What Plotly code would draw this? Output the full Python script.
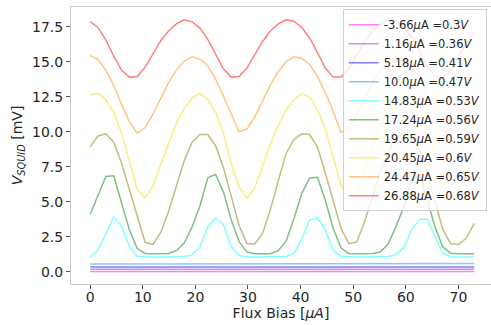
import plotly.graph_objects as go

flux_bias = [0.0, 1.49, 2.98, 4.47, 5.96, 7.45, 8.94, 10.43, 11.92, 13.41, 14.9, 16.39, 17.88, 19.37,
             20.86, 22.35, 23.84, 25.33, 26.82, 28.31, 29.8, 31.29, 32.78, 34.27, 35.76, 37.25, 38.74,
             40.23, 41.72, 43.21, 44.7, 46.19, 47.68, 49.17, 50.66, 52.15, 53.64, 55.13, 56.62, 58.11,
             59.6, 61.09, 62.58, 64.07, 65.56, 67.05, 68.54, 70.03, 71.52, 73.01]

labels = ["-3.66<i>μ</i>A =0.3<i>V</i>", "1.16<i>μ</i>A =0.36<i>V</i>", "5.18<i>μ</i>A =0.41<i>V</i>",
          "10.0<i>μ</i>A =0.47<i>V</i>", "14.83<i>μ</i>A =0.53<i>V</i>", "17.24<i>μ</i>A =0.56<i>V</i>",
          "19.65<i>μ</i>A =0.59<i>V</i>", "20.45<i>μ</i>A =0.6<i>V</i>", "24.47<i>μ</i>A =0.65<i>V</i>",
          "26.88<i>μ</i>A =0.68<i>V</i>"]

v_pink = [0.02, 0.02, 0.02, 0.02, 0.02, 0.02, 0.02, 0.02, 0.02, 0.02, 0.02, 0.02, 0.02, 0.02, 0.02, 0.02,
          0.02, 0.02, 0.02, 0.02, 0.02, 0.02, 0.02, 0.02, 0.02, 0.02, 0.02, 0.02, 0.02, 0.02, 0.02, 0.02,
          0.02, 0.02, 0.02, 0.02, 0.02, 0.02, 0.02, 0.02, 0.02, 0.02, 0.02, 0.02, 0.02, 0.02, 0.02, 0.02,
          0.02, 0.02]
v_purple = [0.17, 0.17, 0.17, 0.17, 0.17, 0.17, 0.17, 0.17, 0.17, 0.17, 0.17, 0.17, 0.17, 0.17, 0.17, 0.17,
            0.17, 0.17, 0.17, 0.17, 0.17, 0.17, 0.17, 0.17, 0.17, 0.17, 0.17, 0.17, 0.17, 0.17, 0.17, 0.17,
            0.17, 0.17, 0.17, 0.17, 0.17, 0.17, 0.17, 0.17, 0.17, 0.17, 0.17, 0.17, 0.17, 0.17, 0.17, 0.17,
            0.17, 0.17]
v_blue = [0.34, 0.34, 0.34, 0.34, 0.34, 0.34, 0.34, 0.34, 0.34, 0.34, 0.34, 0.34, 0.34, 0.34, 0.34, 0.34,
          0.34, 0.34, 0.34, 0.34, 0.34, 0.34, 0.34, 0.34, 0.34, 0.34, 0.34, 0.34, 0.34, 0.34, 0.34, 0.34,
          0.34, 0.34, 0.34, 0.34, 0.34, 0.34, 0.34, 0.34, 0.34, 0.34, 0.34, 0.34, 0.34, 0.34, 0.34, 0.34,
          0.34, 0.34]
v_lightblue = [0.55, 0.56, 0.56, 0.57, 0.56, 0.55, 0.54, 0.54, 0.55, 0.56, 0.56, 0.55, 0.54, 0.54, 0.55,
               0.56, 0.57, 0.57, 0.56, 0.54, 0.53, 0.54, 0.55, 0.56, 0.56, 0.55, 0.54, 0.54, 0.55, 0.57,
               0.58, 0.57, 0.55, 0.54, 0.53, 0.54, 0.56, 0.58, 0.57, 0.55, 0.54, 0.54, 0.55, 0.56, 0.56,
               0.55, 0.54, 0.55, 0.57, 0.58]
v_cyan = [1.05, 1.55, 2.7, 3.9, 3.25, 1.8, 1.1, 1.05, 1.05, 1.05, 1.05, 1.05, 1.08, 1.2, 1.75, 3.2, 3.85,
          3.35, 1.8, 1.15, 1.05, 1.05, 1.05, 1.05, 1.05, 1.08, 1.3, 2.3, 3.7, 3.85, 3.0, 1.5, 1.1, 1.05,
          1.05, 1.05, 1.05, 1.05, 1.08, 1.2, 1.7, 2.95, 3.75, 3.75, 2.5, 1.3, 1.07, 1.05, 1.05, 1.05]
v_green = [4.1, 5.4, 6.8, 6.85, 4.9, 3.0, 1.65, 1.3, 1.28, 1.28, 1.3, 1.5, 2.05, 3.2, 4.7, 6.7, 6.95, 5.7,
           3.7, 2.15, 1.4, 1.28, 1.28, 1.28, 1.5, 2.2, 3.8, 5.6, 6.7, 6.75, 5.1, 3.1, 1.7, 1.3, 1.28, 1.28,
           1.3, 1.4, 1.95, 3.2, 4.6, 6.6, 6.9, 5.1, 3.2, 1.75, 1.32, 1.28, 1.28, 1.28]
v_olive = [8.93, 9.7, 9.85, 9.25, 7.75, 5.9, 3.95, 2.1, 1.95, 2.8, 4.3, 6.15, 7.95, 9.25, 9.8, 9.8, 9.0,
           7.45, 5.35, 3.3, 2.02, 1.98, 2.75, 4.45, 6.5, 8.45, 9.45, 9.85, 9.8, 8.9, 7.05, 5.1, 3.1, 2.0,
           2.12, 3.55, 5.3, 7.1, 8.6, 9.5, 9.85, 9.8, 8.7, 7.0, 5.0, 3.0, 2.0, 1.95, 2.4, 3.45]
v_yellow = [12.62, 12.74, 12.3, 11.35, 9.9, 7.9, 5.9, 5.25, 6.1, 7.65, 9.2, 10.6, 11.65, 12.4, 12.74,
            12.3, 11.4, 9.85, 7.7, 6.05, 5.24, 6.0, 7.55, 9.1, 10.45, 11.55, 12.3, 12.72, 12.45, 11.6,
            10.2, 8.2, 6.2, 5.24, 5.8, 7.3, 8.9, 10.3, 11.45, 12.25, 12.72, 12.5, 11.7, 10.3, 8.4, 6.4,
            5.24, 5.7, 7.0, 8.4]
v_orange = [15.45, 15.15, 14.4, 13.3, 11.95, 10.7, 9.9, 10.3, 11.25, 12.4, 13.5, 14.4, 15.05, 15.36, 15.2,
            14.7, 13.75, 12.55, 11.25, 10.0, 10.2, 11.05, 12.2, 13.35, 14.3, 15.0, 15.35, 15.25, 14.8,
            13.95, 12.8, 11.45, 9.95, 10.3, 11.2, 12.35, 13.45, 14.35, 15.05, 15.35, 15.25, 14.75, 13.9,
            12.75, 11.45, 10.0, 10.25, 11.1, 12.2, 13.3]
v_red = [17.86, 17.45, 16.55, 15.4, 14.4, 13.9, 13.95, 14.6, 15.55, 16.5, 17.2, 17.7, 18.0, 17.85, 17.4,
         16.6, 15.55, 14.5, 13.9, 13.95, 14.55, 15.5, 16.45, 17.2, 17.7, 18.0, 17.9, 17.45, 16.7, 15.65,
         14.55, 13.9, 13.9, 14.5, 15.45, 16.4, 17.2, 17.7, 18.0, 17.95, 17.5, 16.75, 15.75, 14.65, 13.95,
         13.85, 14.4, 15.35, 16.35, 17.1]

series = [v_pink, v_purple, v_blue, v_lightblue, v_cyan, v_green, v_olive, v_yellow, v_orange, v_red]
colors = ["rgba(255,0,255,0.5)", "rgba(138,43,226,0.5)", "rgba(0,0,255,0.5)", "rgba(30,144,255,0.5)",
          "rgba(0,255,255,0.5)", "rgba(0,128,0,0.5)", "rgba(128,128,0,0.5)", "rgba(255,215,0,0.5)",
          "rgba(255,140,0,0.5)", "rgba(255,0,0,0.5)"]

fig = go.Figure()
for vals, name, col in zip(series, labels, colors):
    fig.add_trace(go.Scatter(x=flux_bias, y=vals, mode="lines", name=name,
                             line=dict(color=col, width=1.5)))

axis_common = dict(showgrid=False, zeroline=False, showline=True, linecolor="#c8c8c8", linewidth=1,
                   mirror=True, ticks="outside", ticklen=4, tickcolor="#555", tickwidth=1,
                   automargin=False, tickfont=dict(size=14, color="#262626"))

fig.update_layout(
    width=491, height=325,
    margin=dict(l=71, r=0, t=7, b=41),
    paper_bgcolor="white", plot_bgcolor="white",
    font=dict(family="DejaVu Sans", color="#262626"),
    xaxis=dict(range=[-3.65, 76.2], tickvals=[0, 10, 20, 30, 40, 50, 60, 70], ticklabelstandoff=-4,
               title=dict(text="Flux Bias [<i>μA</i>]", font=dict(size=14), standoff=2),
               **axis_common),
    yaxis=dict(range=[-0.88, 18.91], tickvals=[0, 2.5, 5, 7.5, 10, 12.5, 15, 17.5], tickformat=".1f",
               title=dict(text="<i>V</i><sub><i>SQUID</i></sub> [mV]", font=dict(size=14), standoff=6),
               **axis_common),
    legend=dict(x=0.99, y=0.992, xanchor="right", yanchor="top", bgcolor="rgba(255,255,255,0.8)",
                bordercolor="#d0d0d0", borderwidth=1, font=dict(size=11.5, color="#262626"),
                tracegroupgap=0, itemwidth=30),
)

fig.write_html("out.html", config={"displayModeBar": False},
               post_script="document.body.style.margin='0';document.body.style.padding='0';"
                           "document.documentElement.style.overflow='hidden';")
